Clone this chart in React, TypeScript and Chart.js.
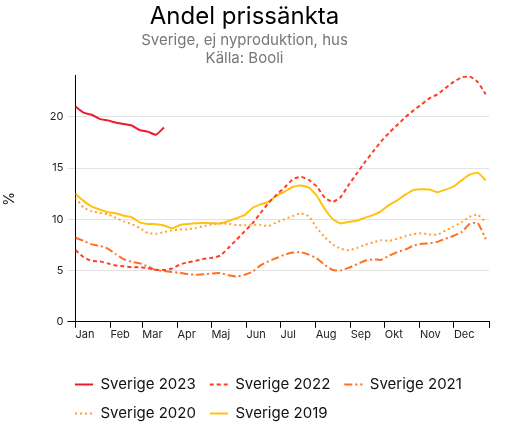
import React, { useEffect, useRef } from "react";
import { Chart, registerables } from "chart.js";

Chart.register(...registerables);

// week numbers 1..52 (one point per week)
const weeks: number[] = Array.from({ length: 52 }, (_, i) => i + 1);

const months = ["Jan", "Feb", "Mar", "Apr", "Maj", "Jun", "Jul", "Aug", "Sep", "Okt", "Nov", "Dec"];
const monthStartDays = [0, 31, 59, 90, 120, 151, 181, 212, 243, 273, 304, 334, 365];
const daysPerWeekStep = 7.1;

const yTicks = [0, 5, 10, 15, 20];

const sverige2023 = [21.0, 20.4, 20.2, 19.8, 19.65, 19.45, 19.3, 19.15, 18.7, 18.55, 18.25, 18.95];

const sverige2022 = [
	7.0, 6.3, 5.95, 5.9, 5.7, 5.5, 5.42, 5.33, 5.33, 5.23, 5.07, 5.05, 5.2, 5.6, 5.8, 5.95, 6.15, 6.25, 6.45,
	7.2, 8.0, 8.8, 9.6, 10.6, 11.6, 12.4, 13.1, 13.9, 14.15, 13.85, 13.2, 12.1, 11.7, 12.2, 13.4, 14.5, 15.6,
	16.6, 17.6, 18.45, 19.2, 19.95, 20.6, 21.2, 21.8, 22.2, 22.8, 23.4, 23.85, 23.95, 23.4, 22.2,
];

const sverige2021 = [
	8.2, 7.9, 7.55, 7.42, 7.15, 6.6, 6.1, 5.85, 5.7, 5.4, 5.05, 4.95, 4.85, 4.78, 4.64, 4.6, 4.63, 4.72, 4.75,
	4.55, 4.42, 4.58, 4.88, 5.5, 5.9, 6.22, 6.55, 6.75, 6.8, 6.55, 6.2, 5.55, 5.05, 5.02, 5.28, 5.62, 5.95,
	6.1, 6.04, 6.45, 6.8, 7.05, 7.42, 7.62, 7.66, 7.8, 8.1, 8.38, 8.75, 9.55, 9.65, 8.07,
];

const sverige2020 = [
	12.1, 11.15, 10.8, 10.62, 10.5, 10.15, 9.8, 9.52, 9.15, 8.65, 8.6, 8.75, 8.92, 9.0, 9.02, 9.15, 9.35, 9.52,
	9.62, 9.55, 9.45, 9.42, 9.48, 9.45, 9.35, 9.7, 10.0, 10.32, 10.58, 10.3, 9.15, 8.25, 7.55, 7.12, 6.98, 7.2,
	7.5, 7.75, 7.95, 7.9, 8.1, 8.35, 8.55, 8.64, 8.52, 8.5, 8.9, 9.3, 9.7, 10.25, 10.45, 9.7,
];

const sverige2019 = [
	12.5, 11.8, 11.25, 10.95, 10.7, 10.6, 10.35, 10.2, 9.7, 9.55, 9.52, 9.4, 9.12, 9.45, 9.55, 9.62, 9.64, 9.62,
	9.57, 9.83, 10.1, 10.4, 11.1, 11.45, 11.7, 12.3, 12.7, 13.15, 13.3, 13.1, 12.3, 11.0, 10.0, 9.6, 9.75, 9.85,
	10.15, 10.4, 10.8, 11.4, 11.85, 12.4, 12.85, 12.94, 12.9, 12.65, 12.9, 13.2, 13.8, 14.35, 14.55, 13.8,
];

const toPoints = (values: number[]) => values.map((v, i) => ({ x: weeks[i], y: v }));

// shift the legend so its rows start under the plot area
const legendShift = {
	id: "legendShift",
	afterLayout(chart: any) {
		if (chart.legend) {
			chart.legend.left += 61;
			chart.legend.right += 61;
		}
	},
};

const App: React.FC = () => {
	const canvasRef = useRef<HTMLCanvasElement>(null);

	useEffect(() => {
		if (!canvasRef.current) return;
		Chart.defaults.font.family = "Inter, 'Noto Sans', sans-serif";
		Chart.defaults.color = "#222";

		const line = (label: string, values: number[], color: string, dash: number[]) => ({
			label,
			data: toPoints(values),
			borderColor: color,
			backgroundColor: color,
			borderWidth: 2,
			borderDash: dash,
			pointRadius: 0,
			tension: 0.15,
			fill: false,
		});

		const defaultLabels = Chart.defaults.plugins.legend.labels.generateLabels;

		const chart = new Chart(canvasRef.current, {
			type: "line",
			data: {
				datasets: [
					line("Sverige 2023", sverige2023, "#ee1b2e", []),
					line("Sverige 2022", sverige2022, "#ff3d24", [4, 3]),
					line("Sverige 2021", sverige2021, "#ff6f1f", [8, 3, 2, 3]),
					line("Sverige 2020", sverige2020, "#ffa033", [2, 3]),
					line("Sverige 2019", sverige2019, "#ffc20e", []),
				],
			},
			plugins: [legendShift],
			options: {
				animation: false,
				responsive: true,
				maintainAspectRatio: false,
				layout: { padding: { left: 0, right: 20, top: 0, bottom: 8 } },
				plugins: {
					title: {
						display: true,
						text: "Andel prissänkta",
						color: "#000",
						font: { size: 24, weight: "normal" },
						padding: { top: 2, bottom: 0 },
					},
					subtitle: {
						display: true,
						text: ["Sverige, ej nyproduktion, hus", "Källa: Booli"],
						color: "#777",
						font: { size: 15 },
						padding: { top: 1, bottom: 8 },
					},
					legend: {
						position: "bottom",
						align: "start",
						labels: {
							usePointStyle: true,
							pointStyle: "line",
							pointStyleWidth: 18,
							color: "#111",
							font: { size: 15 },
							padding: 14,
							generateLabels: (c: any) =>
								defaultLabels(c).map((item: any) => {
									const ds: any = c.data.datasets[item.datasetIndex];
									return {
										...item,
										strokeStyle: ds.borderColor,
										lineWidth: 2,
										lineDash: ds.borderDash,
									};
								}),
						},
					},
					tooltip: { enabled: false },
				},
				scales: {
					x: {
						type: "linear",
						min: 1,
						max: 1 + 365 / daysPerWeekStep,
						afterBuildTicks: (axis: any) => {
							axis.ticks = monthStartDays.map((d) => ({ value: 1 + d / daysPerWeekStep }));
						},
						afterFit: (axis: any) => {
							axis.height += 22;
						},
						ticks: {
							autoSkip: false,
							maxRotation: 0,
							align: "start",
							padding: 0,
							color: "#222",
							font: { size: 11 },
							callback: (_v: any, i: number) => months[i] ?? "",
						},
						grid: { drawOnChartArea: false, drawTicks: true, tickLength: 6, color: "#000" },
						border: { display: true, color: "#000" },
					},
					y: {
						min: 0,
						max: 24,
						afterBuildTicks: (axis: any) => {
							axis.ticks = yTicks.map((v) => ({ value: v }));
						},
						ticks: { padding: 4, color: "#222", font: { size: 11 } },
						grid: {
							color: (ctx: any) => (ctx.tick && ctx.tick.value === 0 ? "#000" : "#e3e3e3"),
							tickLength: 8,
						},
						border: { display: true, color: "#000" },
						title: {
							display: true,
							text: "%",
							color: "#111",
							font: { size: 14 },
							padding: { top: 1, bottom: 28 },
						},
					},
				},
			},
		});

		return () => {
			chart.destroy();
		};
	}, []);

	return (
		<div style={{ position: "absolute", left: 0, top: 0, width: 509, height: 439, background: "#fff" }}>
			<canvas ref={canvasRef} />
		</div>
	);
};

export default App;
